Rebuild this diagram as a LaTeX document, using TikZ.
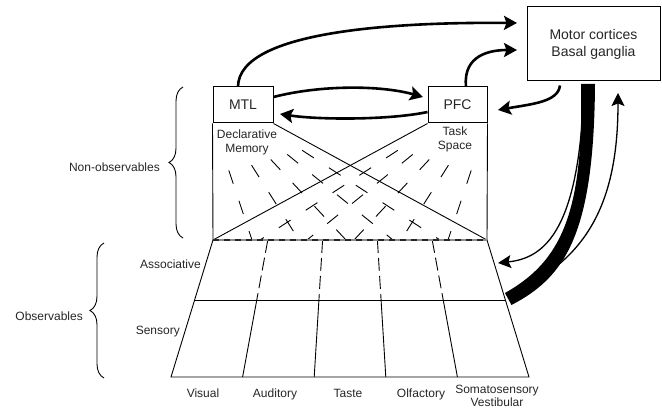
\documentclass[tikz,border=0pt]{standalone}
\usepackage{fontspec}
\setmainfont{Liberation Sans}
\usetikzlibrary{arrows.meta,calc,decorations.pathreplacing}
\begin{document}
\begin{tikzpicture}[x=1pt,y=-1pt,
  box/.style={draw,line width=1pt,inner sep=0pt,font=\fontsize{14}{17}\selectfont,align=center,text=black!85},
  lab/.style={font=\fontsize{12}{14}\selectfont,inner sep=0pt,text=black!85},
  thin/.style={line width=0.9pt},
  fanray/.style={line width=0.9pt,dash pattern=on 14pt off 18pt,dash phase=14pt},
  bigarrow/.style={line width=2.6pt,-{Stealth[length=13pt,width=14pt,inset=2.5pt]}},
  thinarrow/.style={line width=1.3pt,-{Stealth[length=13pt,width=13pt,inset=2.5pt]}},
  bracestyle/.style={line width=0.9pt,decorate,decoration={brace,amplitude=14pt}}
]
\useasboundingbox (0,0) rectangle (662,409);

% boxes
\node[box,minimum width=60pt,minimum height=36pt] (mtl) at (243,105) {MTL};
\node[box,minimum width=59pt,minimum height=36pt] (pfc) at (457.5,105) {PFC};
\node[box,minimum width=133pt,minimum height=74pt] (motor) at (593.5,44) {Motor cortices\\Basal ganglia};

% trapezoid coordinates
\foreach \k in {0,...,5} {
  \coordinate (T\k) at ({213+54.8*\k},240);
  \coordinate (B\k) at ({171+71.6*\k},377);
  \coordinate (M\k) at ($(T\k)!0.438!(B\k)$);
}

% fan rays
\foreach \i in {0,...,4} {
  \pgfmathsetmacro\sx{213+11.8*\i}
  \pgfmathsetmacro\ex{252+47*\i}
  \coordinate (rs) at (\sx,123);
  \coordinate (re) at (\ex,240);
  \draw[fanray] ($(rs)!32pt!(re)$) -- (re);
  \coordinate (qs) at ({700-\sx},123);
  \coordinate (qe) at ({700-\ex},240);
  \draw[fanray] ($(qs)!32pt!(qe)$) -- (qe);
}

% upper region
\draw[thin] (mtl.south west) -- (T0);
\draw[thin] (pfc.south east) -- (T5);
\draw[thin] (mtl.south east) -- (T5);
\draw[thin] (pfc.south west) -- (T0);

\node[lab,fill=white,inner sep=1pt,align=center,anchor=north,font=\fontsize{12}{13.5}\selectfont] (decl) at (247,129) {Declarative\\Memory};
\node[lab,fill=white,inner sep=1pt,align=center,anchor=north,font=\fontsize{12}{13.5}\selectfont] (task) at (455,126) {Task\\Space};

% lower trapezoid
\foreach \k in {1,...,4} {
  \draw[thin,dash pattern=on 13pt off 5pt] (T\k) -- (M\k);
  \draw[thin] (M\k) -- (B\k);
}
\draw[thin] (T0) -- (B0) -- (B5) -- (T5);
\draw[thin] (M0) -- (M5);
\draw[line width=1.8pt,black!45] (T0) -- (T5);
\draw[line width=1.8pt,black!85,dash pattern=on 6pt off 5pt] (T0) -- (T5);

% labels
\node[lab,anchor=east] (assoc) at (201,264) {Associative};
\node[lab,anchor=east] (sens) at (180,332) {Sensory};
\node[lab,anchor=base] (vis) at (203,397) {Visual};
\node[lab,anchor=base] (aud) at (275,397) {Auditory};
\node[lab,anchor=base] (taste) at (348,397) {Taste};
\node[lab,anchor=base] (olf) at (421,397) {Olfactory};
\node[lab,anchor=base] (soma) at (497,393) {Somatosensory};
\node[lab,anchor=base] (vest) at (497,406) {Vestibular};
\node[lab,anchor=east] (nonobs) at (160,167) {Non-observables};
\node[lab,anchor=east] (obs) at (83,316) {Observables};

% braces
\coordinate (br1a) at (183,238);
\coordinate (br1b) at (183,87);
\coordinate (br2a) at (104,378);
\coordinate (br2b) at (104,243);
\draw[bracestyle] (br1a) -- (br1b);
\draw[bracestyle] (br2a) -- (br2b);

% arrow end points
\coordinate (m1) at (517,23);
\coordinate (m2) at (517,50);
\coordinate (pfcin) at (498,110);
\coordinate (associn) at (498,263);
\coordinate (motorin) at (618,93);
\coordinate (bandend) at (517,290);

% thick arrows
\draw[bigarrow] ([xshift=-5pt]mtl.north) .. controls (239,30) and (400,22) .. (m1);
\draw[bigarrow] ([xshift=8.5pt]pfc.north) .. controls (463,55) and (490,50) .. (m2);
\draw[bigarrow] ([yshift=8pt]mtl.east) .. controls (320,85) and (380,85) .. (423,97);
\draw[bigarrow] ([yshift=-7pt]pfc.west) .. controls (390,120) and (320,120) .. (280,114);
\draw[bigarrow] ([xshift=-33.5pt,yshift=-4pt]motor.south) .. controls (558,102) and (532,104) .. (pfcin);

% thin arrows
\draw[thinarrow] ([xshift=-9.5pt,yshift=-3pt]motor.south) .. controls (580,230) and (545,258) .. (associn);
\draw[thinarrow] (bandend) .. controls (595,255) and (618,190) .. (motorin);

% band
\fill (581,84) .. controls (584,215) and (560,262) .. (505,293) -- (511.5,305) .. controls (565,277) and (594,235) .. (595,84) -- cycle;
\end{tikzpicture}
\end{document}
